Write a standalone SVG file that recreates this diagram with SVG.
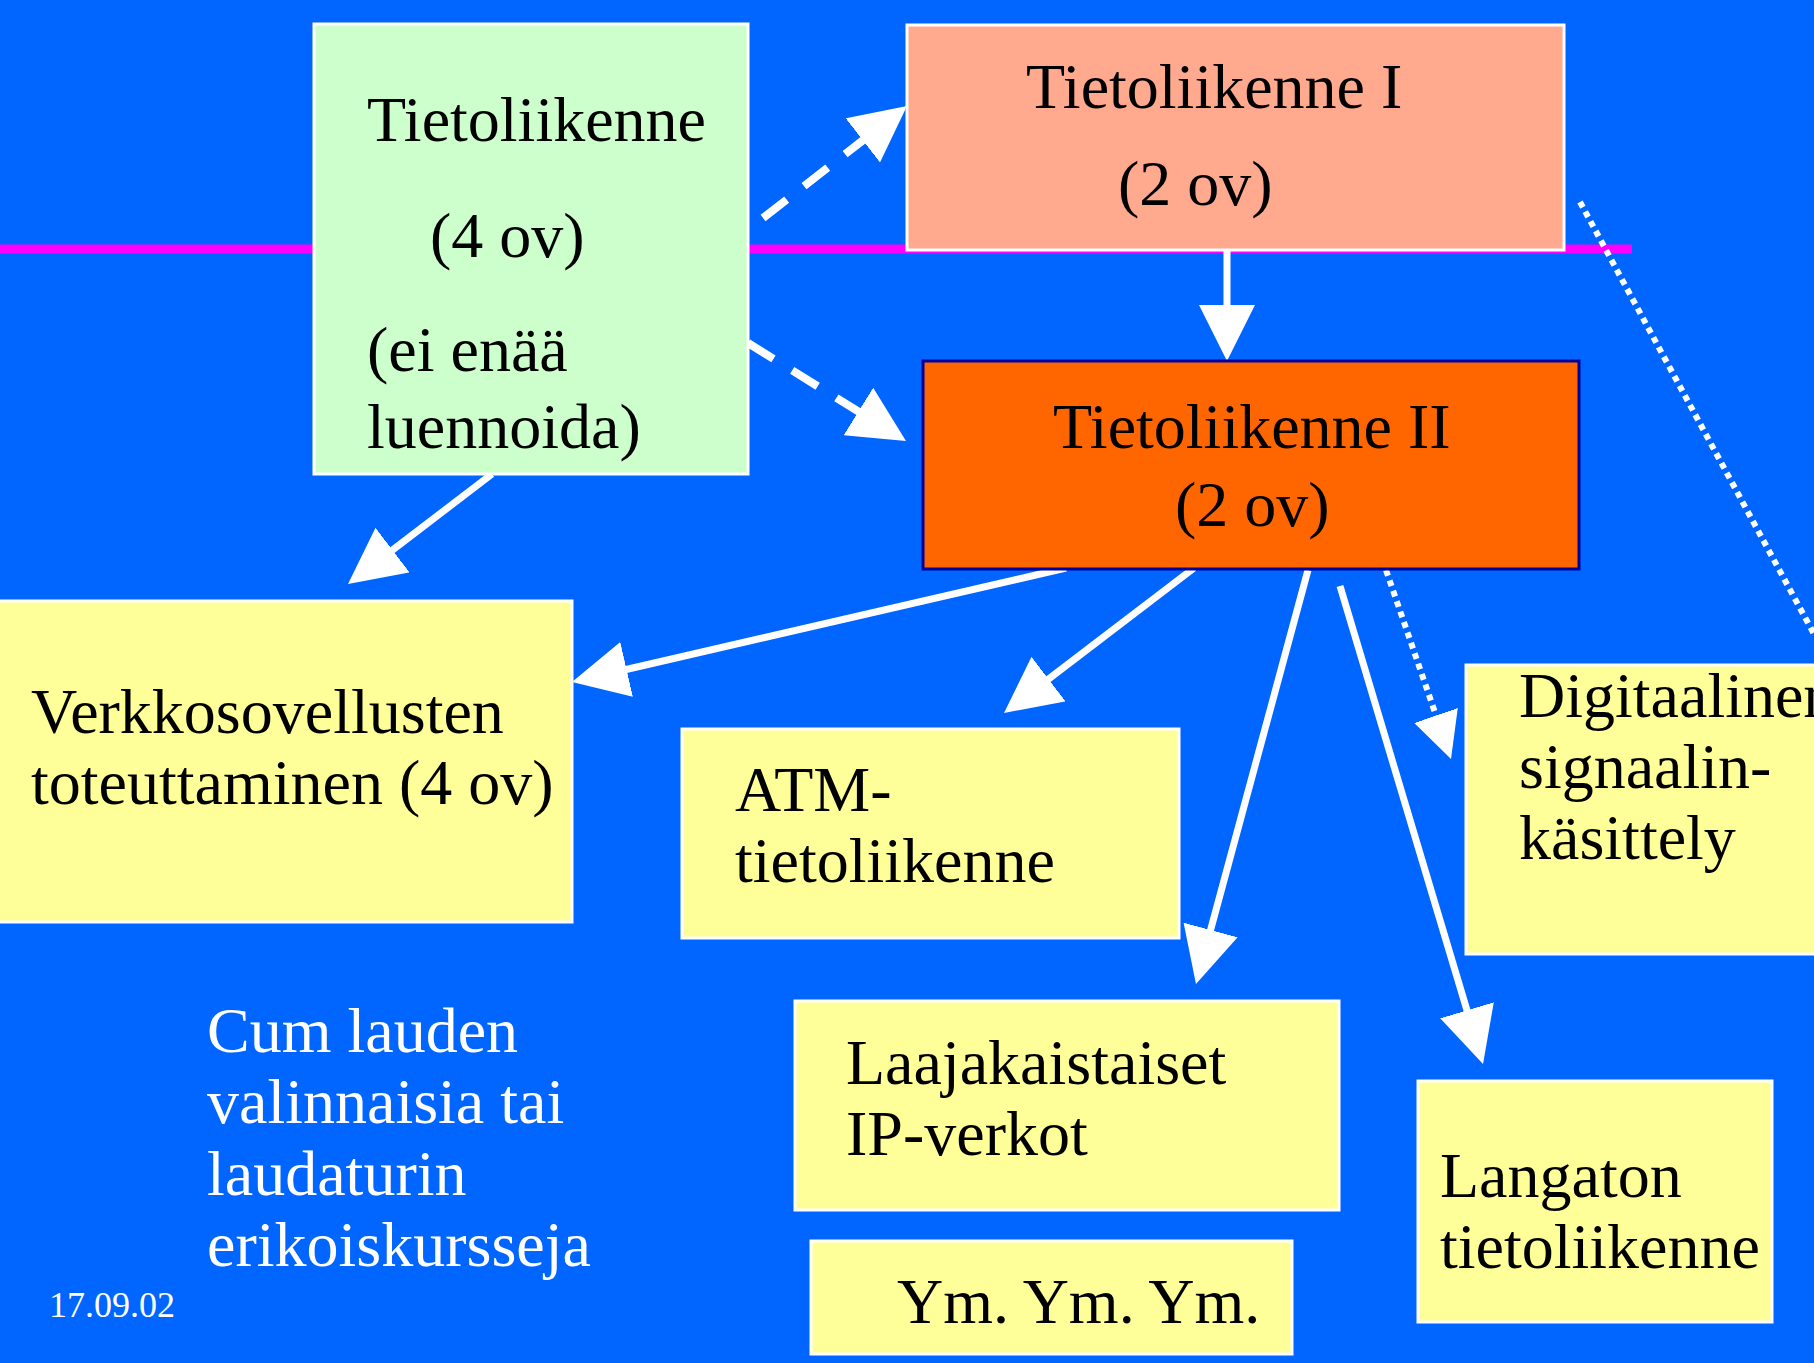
<svg xmlns="http://www.w3.org/2000/svg" width="1814" height="1363" viewBox="0 0 1814 1363">
<style>
text{font-family:"Liberation Serif","Times New Roman",serif;font-size:64px;fill:#000}
.w{fill:#fff}
.box{stroke:#fff;stroke-width:3}
.yel{fill:#FFFF99}
.ln{stroke:#fff;stroke-width:7;fill:none}
.dash{stroke:#fff;stroke-width:8;fill:none;stroke-dasharray:30 22}
.dot{stroke:#fff;stroke-width:6;fill:none;stroke-dasharray:6 5}
</style>
<defs>
<marker id="ah" markerUnits="userSpaceOnUse" markerWidth="56" markerHeight="56" refX="36" refY="28" orient="auto" viewBox="0 0 56 56">
<path d="M0,0 L56,28 L0,56 z" fill="#fff"/>
</marker>
<marker id="ahs" markerUnits="userSpaceOnUse" markerWidth="46" markerHeight="46" refX="30" refY="23" orient="auto" viewBox="0 0 46 46">
<path d="M0,0 L46,23 L0,46 z" fill="#fff"/>
</marker>
</defs>
<rect x="0" y="0" width="1814" height="1363" fill="#0066FF"/>
<line x1="0" y1="249" x2="1632" y2="249" stroke="#FF00FF" stroke-width="9"/>

<g id="connectors">
<line class="dash" x1="763" y1="218" x2="891.2" y2="118.3" marker-end="url(#ah)"/>
<line class="dash" x1="748" y1="343" x2="889" y2="430.5" marker-end="url(#ah)"/>
<line class="ln" x1="1227" y1="250" x2="1227" y2="341" marker-end="url(#ah)"/>
<line class="ln" x1="492" y1="474" x2="363.9" y2="571.9" marker-end="url(#ah)"/>
<line class="ln" x1="1066" y1="568" x2="591.5" y2="677.5" marker-end="url(#ah)"/>
<line class="ln" x1="1194" y1="568" x2="1019.9" y2="700.9" marker-end="url(#ah)"/>
<line class="ln" x1="1308" y1="570" x2="1201.2" y2="964.7" marker-end="url(#ah)"/>
<line class="ln" x1="1340" y1="586" x2="1477.3" y2="1044.8" marker-end="url(#ah)"/>
<line class="dot" x1="1386" y1="570" x2="1445.8" y2="743.9" marker-end="url(#ahs)"/>
<line class="dot" x1="1580" y1="202" x2="1814" y2="634"/>
</g>

<g id="tl-old">
<rect class="box" x="314" y="24" width="434" height="450" fill="#CCFFCC"/>
<text x="367" y="141">Tietoliikenne</text>
<text x="430" y="257">(4 ov)</text>
<text x="367" y="371">(ei enää</text>
<text x="367" y="448">luennoida)</text>
</g>

<g id="tl-1">
<rect class="box" x="907" y="25" width="657" height="225" fill="#FFAA8E"/>
<text x="1026" y="108">Tietoliikenne I</text>
<text x="1118" y="205">(2 ov)</text>
</g>

<g id="tl-2">
<rect x="923" y="361" width="656" height="208" fill="#FF6600" stroke="#000099" stroke-width="3"/>
<text x="1053" y="448">Tietoliikenne II</text>
<text x="1175" y="526">(2 ov)</text>
</g>

<g id="verkko">
<rect class="box yel" x="-5" y="601" width="577" height="321"/>
<text x="31" y="733">Verkkosovellusten</text>
<text x="31" y="804">toteuttaminen (4 ov)</text>
</g>

<g id="atm">
<rect class="box yel" x="682" y="729" width="497" height="209"/>
<text x="735" y="811">ATM-</text>
<text x="735" y="882">tietoliikenne</text>
</g>

<g id="dsp">
<rect class="box yel" x="1466" y="665" width="360" height="289"/>
<text x="1519" y="717">Digitaalinen</text>
<text x="1519" y="788">signaalin-</text>
<text x="1519" y="859">käsittely</text>
</g>

<g id="ip">
<rect class="box yel" x="795" y="1001" width="544" height="209"/>
<text x="846" y="1084">Laajakaistaiset</text>
<text x="846" y="1155">IP-verkot</text>
</g>

<g id="ym">
<rect class="box yel" x="811" y="1241" width="481" height="113"/>
<text x="897" y="1323">Ym. Ym. Ym.</text>
</g>

<g id="langaton">
<rect class="box yel" x="1418" y="1081" width="354" height="241"/>
<text x="1440" y="1197">Langaton</text>
<text x="1440" y="1268">tietoliikenne</text>
</g>

<g id="note">
<text class="w" x="207" y="1052">Cum lauden</text>
<text class="w" x="207" y="1123">valinnaisia tai</text>
<text class="w" x="207" y="1195">laudaturin</text>
<text class="w" x="207" y="1266">erikoiskursseja</text>
</g>

<g id="date">
<text class="w" x="49" y="1317" style="font-size:36px">17.09.02</text>
</g>
</svg>
